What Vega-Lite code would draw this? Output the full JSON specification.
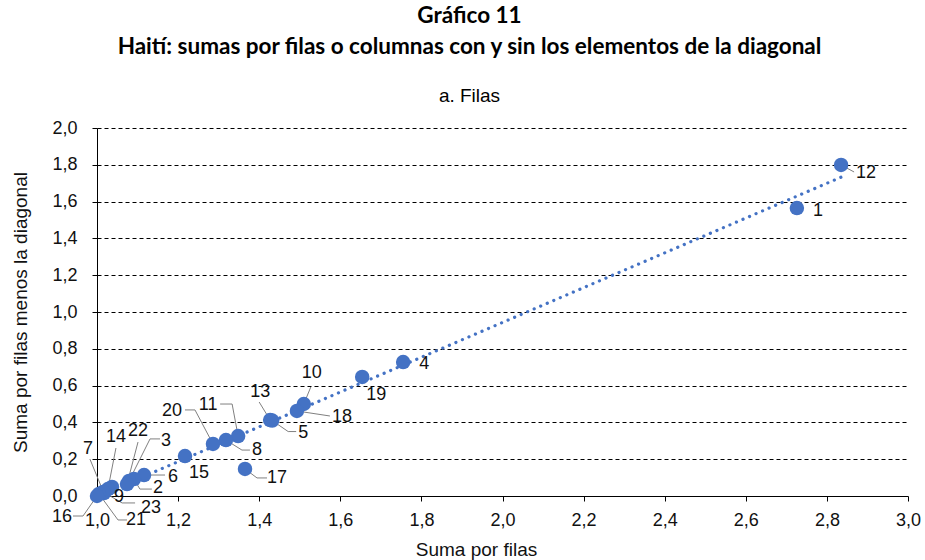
{
  "$schema": "https://vega.github.io/schema/vega-lite/v6.json",
  "width": 811,
  "height": 368,
  "autosize": {"type": "none"},
  "padding": {"left": 97, "top": 128, "right": 17, "bottom": 64},
  "background": "white",
  "title": {
    "text": ["Gráfico 11", "Haití: sumas por filas o columnas con y sin los elementos de la diagonal"],
    "subtitle": "a. Filas",
    "anchor": "middle",
    "frame": "group",
    "dx": -33,
    "font": "Lato",
    "fontSize": 22.5,
    "fontWeight": "bold",
    "lineHeight": 31,
    "color": "#000000",
    "subtitleFont": "Liberation Sans",
    "subtitleFontSize": 19,
    "subtitleColor": "#000000",
    "subtitlePadding": 29,
    "offset": 13
  },
  "config": {
    "view": {"stroke": null},
    "font": "Liberation Sans",
    "text": {"font": "Liberation Sans", "fontSize": 18, "color": "#111111"}
  },
  "data": {
    "values": [
      {"id": "12", "x": 2.835, "y": 1.799},
      {"id": "1", "x": 2.726, "y": 1.565},
      {"id": "4", "x": 1.755, "y": 0.728},
      {"id": "19", "x": 1.654, "y": 0.647},
      {"id": "10", "x": 1.51, "y": 0.5},
      {"id": "18", "x": 1.493, "y": 0.462},
      {"id": "13", "x": 1.427, "y": 0.413},
      {"id": "5", "x": 1.432, "y": 0.41},
      {"id": "11", "x": 1.348, "y": 0.326},
      {"id": "8", "x": 1.318, "y": 0.304},
      {"id": "20", "x": 1.286, "y": 0.283},
      {"id": "15", "x": 1.217, "y": 0.217},
      {"id": "17", "x": 1.365, "y": 0.147},
      {"id": "6", "x": 1.116, "y": 0.114},
      {"id": "2", "x": 1.091, "y": 0.092},
      {"id": "3", "x": 1.079, "y": 0.082},
      {"id": "22", "x": 1.074, "y": 0.065},
      {"id": "9", "x": 1.037, "y": 0.049},
      {"id": "14", "x": 1.027, "y": 0.038},
      {"id": "7", "x": 1.017, "y": 0.016},
      {"id": "23", "x": 1.015, "y": 0.022},
      {"id": "21", "x": 1.005, "y": 0.011},
      {"id": "16", "x": 1.0, "y": 0.0}
    ]
  },
  "encoding": {
    "x": {
      "field": "x", "type": "quantitative",
      "scale": {"domain": [1, 3], "nice": false, "zero": false},
      "axis": {
        "title": "Suma por filas",
        "values": [1, 1.2, 1.4, 1.6, 1.8, 2, 2.2, 2.4, 2.6, 2.8, 3],
        "labelExpr": "replace(format(datum.value, '.1f'), '.', ',')",
        "grid": false,
        "domainColor": "#000000",
        "tickColor": "#000000",
        "tickSize": 5,
        "labelPadding": 10,
        "labelFontSize": 18,
        "labelColor": "#111111",
        "labelFont": "Liberation Sans",
        "titleFont": "Liberation Sans",
        "titleFontSize": 19,
        "titleFontWeight": "normal",
        "titleColor": "#111111",
        "titleX": 379,
        "titlePadding": 11,
        "labelFlush": false
      }
    },
    "y": {
      "field": "y", "type": "quantitative",
      "scale": {"domain": [0, 2], "nice": false},
      "axis": {
        "title": "Suma por filas menos la diagonal",
        "values": [0, 0.2, 0.4, 0.6, 0.8, 1, 1.2, 1.4, 1.6, 1.8, 2],
        "labelExpr": "replace(format(datum.value, '.1f'), '.', ',')",
        "grid": true,
        "gridColor": "#000000",
        "gridDash": [4, 3],
        "gridWidth": 1,
        "domainColor": "#000000",
        "tickColor": "#000000",
        "tickSize": 5,
        "labelPadding": 15,
        "labelFontSize": 18,
        "labelColor": "#111111",
        "labelFont": "Liberation Sans",
        "titleFont": "Liberation Sans",
        "titleFontSize": 19,
        "titleFontWeight": "normal",
        "titleColor": "#111111",
        "titlePadding": 21
      }
    }
  },
  "layer": [
    {
      "transform": [{"regression": "y", "on": "x"}],
      "mark": {"type": "line", "color": "#4472C4", "strokeWidth": 3.2, "strokeDash": [0.1, 7], "strokeCap": "round"}
    },
    {"transform": [{"filter": "datum.id === '12'"}], "mark": {"type": "rule", "color": "#808080", "x2Offset": 13, "y2Offset": 7}, "encoding": {"x2": {"field": "x"}, "y2": {"field": "y"}}},
    {"transform": [{"filter": "datum.id === '10'"}], "mark": {"type": "rule", "color": "#808080", "x2Offset": 7, "y2Offset": -17}, "encoding": {"x2": {"field": "x"}, "y2": {"field": "y"}}},
    {"transform": [{"filter": "datum.id === '18'"}], "mark": {"type": "rule", "color": "#808080", "x2Offset": 33, "y2Offset": 5}, "encoding": {"x2": {"field": "x"}, "y2": {"field": "y"}}},
    {"transform": [{"filter": "datum.id === '13'"}], "mark": {"type": "rule", "color": "#808080", "x2Offset": -11, "y2Offset": -18}, "encoding": {"x2": {"field": "x"}, "y2": {"field": "y"}}},
    {"transform": [{"filter": "datum.id === '5'"}], "mark": {"type": "rule", "color": "#808080", "x2Offset": 16, "y2Offset": 11}, "encoding": {"x2": {"field": "x"}, "y2": {"field": "y"}}},
    {"transform": [{"filter": "datum.id === '5'"}], "mark": {"type": "rule", "color": "#808080", "xOffset": 16, "yOffset": 11, "x2Offset": 24, "y2Offset": 11}, "encoding": {"x2": {"field": "x"}, "y2": {"field": "y"}}},
    {"transform": [{"filter": "datum.id === '11'"}], "mark": {"type": "rule", "color": "#808080", "x2Offset": -6, "y2Offset": -32}, "encoding": {"x2": {"field": "x"}, "y2": {"field": "y"}}},
    {"transform": [{"filter": "datum.id === '11'"}], "mark": {"type": "rule", "color": "#808080", "xOffset": -6, "yOffset": -32, "x2Offset": -18, "y2Offset": -32}, "encoding": {"x2": {"field": "x"}, "y2": {"field": "y"}}},
    {"transform": [{"filter": "datum.id === '8'"}], "mark": {"type": "rule", "color": "#808080", "x2Offset": 16, "y2Offset": 10}, "encoding": {"x2": {"field": "x"}, "y2": {"field": "y"}}},
    {"transform": [{"filter": "datum.id === '8'"}], "mark": {"type": "rule", "color": "#808080", "xOffset": 16, "yOffset": 10, "x2Offset": 24, "y2Offset": 10}, "encoding": {"x2": {"field": "x"}, "y2": {"field": "y"}}},
    {"transform": [{"filter": "datum.id === '20'"}], "mark": {"type": "rule", "color": "#808080", "x2Offset": -18, "y2Offset": -34}, "encoding": {"x2": {"field": "x"}, "y2": {"field": "y"}}},
    {"transform": [{"filter": "datum.id === '20'"}], "mark": {"type": "rule", "color": "#808080", "xOffset": -18, "yOffset": -34, "x2Offset": -28, "y2Offset": -34}, "encoding": {"x2": {"field": "x"}, "y2": {"field": "y"}}},
    {"transform": [{"filter": "datum.id === '17'"}], "mark": {"type": "rule", "color": "#808080", "x2Offset": 12, "y2Offset": 9}, "encoding": {"x2": {"field": "x"}, "y2": {"field": "y"}}},
    {"transform": [{"filter": "datum.id === '17'"}], "mark": {"type": "rule", "color": "#808080", "xOffset": 12, "yOffset": 9, "x2Offset": 22, "y2Offset": 9}, "encoding": {"x2": {"field": "x"}, "y2": {"field": "y"}}},
    {"transform": [{"filter": "datum.id === '6'"}], "mark": {"type": "rule", "color": "#808080", "x2Offset": 21, "y2Offset": 0}, "encoding": {"x2": {"field": "x"}, "y2": {"field": "y"}}},
    {"transform": [{"filter": "datum.id === '2'"}], "mark": {"type": "rule", "color": "#808080", "x2Offset": 6, "y2Offset": 10}, "encoding": {"x2": {"field": "x"}, "y2": {"field": "y"}}},
    {"transform": [{"filter": "datum.id === '2'"}], "mark": {"type": "rule", "color": "#808080", "xOffset": 6, "yOffset": 10, "x2Offset": 18, "y2Offset": 10}, "encoding": {"x2": {"field": "x"}, "y2": {"field": "y"}}},
    {"transform": [{"filter": "datum.id === '3'"}], "mark": {"type": "rule", "color": "#808080", "x2Offset": 21, "y2Offset": -42}, "encoding": {"x2": {"field": "x"}, "y2": {"field": "y"}}},
    {"transform": [{"filter": "datum.id === '3'"}], "mark": {"type": "rule", "color": "#808080", "xOffset": 21, "yOffset": -42, "x2Offset": 31, "y2Offset": -42}, "encoding": {"x2": {"field": "x"}, "y2": {"field": "y"}}},
    {"transform": [{"filter": "datum.id === '22'"}], "mark": {"type": "rule", "color": "#808080", "x2Offset": 11, "y2Offset": -42}, "encoding": {"x2": {"field": "x"}, "y2": {"field": "y"}}},
    {"transform": [{"filter": "datum.id === '14'"}], "mark": {"type": "rule", "color": "#808080", "x2Offset": 8, "y2Offset": -41}, "encoding": {"x2": {"field": "x"}, "y2": {"field": "y"}}},
    {"transform": [{"filter": "datum.id === '7'"}], "mark": {"type": "rule", "color": "#808080", "x2Offset": -14, "y2Offset": -34}, "encoding": {"x2": {"field": "x"}, "y2": {"field": "y"}}},
    {"transform": [{"filter": "datum.id === '23'"}], "mark": {"type": "rule", "color": "#808080", "x2Offset": 19, "y2Offset": 11}, "encoding": {"x2": {"field": "x"}, "y2": {"field": "y"}}},
    {"transform": [{"filter": "datum.id === '23'"}], "mark": {"type": "rule", "color": "#808080", "xOffset": 19, "yOffset": 11, "x2Offset": 32, "y2Offset": 11}, "encoding": {"x2": {"field": "x"}, "y2": {"field": "y"}}},
    {"transform": [{"filter": "datum.id === '21'"}], "mark": {"type": "rule", "color": "#808080", "x2Offset": 19, "y2Offset": 26}, "encoding": {"x2": {"field": "x"}, "y2": {"field": "y"}}},
    {"transform": [{"filter": "datum.id === '21'"}], "mark": {"type": "rule", "color": "#808080", "xOffset": 19, "yOffset": 26, "x2Offset": 28, "y2Offset": 26}, "encoding": {"x2": {"field": "x"}, "y2": {"field": "y"}}},
    {"transform": [{"filter": "datum.id === '16'"}], "mark": {"type": "rule", "color": "#808080", "x2Offset": -14, "y2Offset": 20}, "encoding": {"x2": {"field": "x"}, "y2": {"field": "y"}}},
    {"transform": [{"filter": "datum.id === '16'"}], "mark": {"type": "rule", "color": "#808080", "xOffset": -14, "yOffset": 20, "x2Offset": -24, "y2Offset": 20}, "encoding": {"x2": {"field": "x"}, "y2": {"field": "y"}}},
    {
      "mark": {"type": "point", "filled": true, "size": 210, "color": "#4472C4", "opacity": 1, "shape": "circle"}
    },
    {"transform": [{"filter": "datum.id === '12'"}], "mark": {"type": "text", "dx": 25, "dy": 8}, "encoding": {"text": {"field": "id"}}},
    {"transform": [{"filter": "datum.id === '1'"}], "mark": {"type": "text", "dx": 21, "dy": 3}, "encoding": {"text": {"field": "id"}}},
    {"transform": [{"filter": "datum.id === '4'"}], "mark": {"type": "text", "dx": 21, "dy": 2}, "encoding": {"text": {"field": "id"}}},
    {"transform": [{"filter": "datum.id === '19'"}], "mark": {"type": "text", "dx": 14, "dy": 18}, "encoding": {"text": {"field": "id"}}},
    {"transform": [{"filter": "datum.id === '10'"}], "mark": {"type": "text", "dx": 8, "dy": -31}, "encoding": {"text": {"field": "id"}}},
    {"transform": [{"filter": "datum.id === '18'"}], "mark": {"type": "text", "dx": 45, "dy": 6}, "encoding": {"text": {"field": "id"}}},
    {"transform": [{"filter": "datum.id === '13'"}], "mark": {"type": "text", "dx": -10, "dy": -28}, "encoding": {"text": {"field": "id"}}},
    {"transform": [{"filter": "datum.id === '5'"}], "mark": {"type": "text", "dx": 31, "dy": 12}, "encoding": {"text": {"field": "id"}}},
    {"transform": [{"filter": "datum.id === '11'"}], "mark": {"type": "text", "dx": -30, "dy": -31}, "encoding": {"text": {"field": "id"}}},
    {"transform": [{"filter": "datum.id === '8'"}], "mark": {"type": "text", "dx": 31, "dy": 10}, "encoding": {"text": {"field": "id"}}},
    {"transform": [{"filter": "datum.id === '20'"}], "mark": {"type": "text", "dx": -41, "dy": -33}, "encoding": {"text": {"field": "id"}}},
    {"transform": [{"filter": "datum.id === '15'"}], "mark": {"type": "text", "dx": 14, "dy": 17}, "encoding": {"text": {"field": "id"}}},
    {"transform": [{"filter": "datum.id === '17'"}], "mark": {"type": "text", "dx": 32, "dy": 9}, "encoding": {"text": {"field": "id"}}},
    {"transform": [{"filter": "datum.id === '6'"}], "mark": {"type": "text", "dx": 29, "dy": 2}, "encoding": {"text": {"field": "id"}}},
    {"transform": [{"filter": "datum.id === '2'"}], "mark": {"type": "text", "dx": 24, "dy": 9}, "encoding": {"text": {"field": "id"}}},
    {"transform": [{"filter": "datum.id === '3'"}], "mark": {"type": "text", "dx": 37, "dy": -40}, "encoding": {"text": {"field": "id"}}},
    {"transform": [{"filter": "datum.id === '22'"}], "mark": {"type": "text", "dx": 11, "dy": -53}, "encoding": {"text": {"field": "id"}}},
    {"transform": [{"filter": "datum.id === '14'"}], "mark": {"type": "text", "dx": 8, "dy": -52}, "encoding": {"text": {"field": "id"}}},
    {"transform": [{"filter": "datum.id === '9'"}], "mark": {"type": "text", "dx": 7, "dy": 10}, "encoding": {"text": {"field": "id"}}},
    {"transform": [{"filter": "datum.id === '7'"}], "mark": {"type": "text", "dx": -16, "dy": -44}, "encoding": {"text": {"field": "id"}}},
    {"transform": [{"filter": "datum.id === '23'"}], "mark": {"type": "text", "dx": 48, "dy": 16}, "encoding": {"text": {"field": "id"}}},
    {"transform": [{"filter": "datum.id === '21'"}], "mark": {"type": "text", "dx": 37, "dy": 26}, "encoding": {"text": {"field": "id"}}},
    {"transform": [{"filter": "datum.id === '16'"}], "mark": {"type": "text", "dx": -35, "dy": 21}, "encoding": {"text": {"field": "id"}}},
    {
      "data": {"values": [{"t": "y = 0,9468x - 0,9528"}]},
      "mark": {"type": "text", "fontSize": 17},
      "encoding": {"x": {"datum": 2.332}, "y": {"datum": 1.755}, "text": {"field": "t"}}
    },
    {
      "data": {"values": [{"t": "R² = 0,9898"}]},
      "mark": {"type": "text", "fontSize": 17},
      "encoding": {"x": {"datum": 2.351}, "y": {"datum": 1.647}, "text": {"field": "t"}}
    }
  ]
}
